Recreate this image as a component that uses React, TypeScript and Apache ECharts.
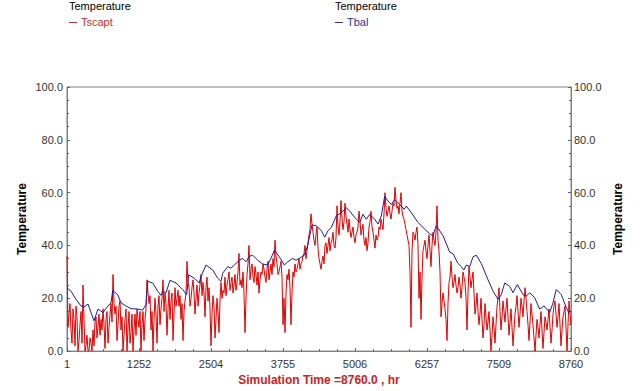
import React, { useEffect, useRef } from "react";
import * as echarts from "echarts";

// x-axis tick labels (hours)
const xTickLabels = [1, 1252, 2504, 3755, 5006, 6257, 7509, 8760];
const yTickLabels = ["0.0", "20.0", "40.0", "60.0", "80.0", "100.0"];

// Tscapt: values read on a uniform grid from hour 1 to hour 8760 (253 samples)
const tscaptValues = [
  36, 14, 8, 16, 2, 13, 4, 15, 25, 0, 6, 0, 3, 8, 11, 5, 14, 12, 16, 1,
  15, 9, 18, 29, 14, 4, 17, 8, 0, 12, 0, 15, 7, 0, 14, 16, 9, 0, 15, 12,
  27, 18, 8, 0, 20, 3, 21, 16, 27, 22, 6, 23, 19, 4, 24, 20, 17, 12, 4, 19,
  34, 24, 20, 27, 14, 25, 22, 29, 26, 13, 28, 24, 2, 21, 5, 20, 7, 26, 23, 28,
  25, 30, 26, 22, 29, 26, 37, 27, 30, 7, 29, 40, 31, 28, 32, 25, 22, 30, 33, 28,
  31, 27, 33, 35, 42, 33, 30, 34, 10, 7, 29, 31, 10, 30, 33, 31, 35, 33, 36, 40,
  38, 44, 52, 45, 40, 47, 35, 31, 36, 40, 37, 43, 41, 45, 39, 55, 44, 57, 46, 56,
  48, 50, 43, 47, 41, 45, 53, 44, 48, 40, 38, 47, 53, 45, 39, 42, 47, 50, 46, 60,
  51, 55, 50, 56, 62, 54, 52, 60, 51, 48, 44, 40, 9, 45, 42, 47, 20, 12, 38, 42,
  35, 44, 32, 45, 40, 55, 38, 13, 22, 16, 4, 26, 34, 24, 29, 22, 28, 20, 30, 26,
  8, 32, 24, 30, 14, 22, 10, 20, 5, 18, 8, 15, 0, 13, 3, 17, 24, 8, 19, 11,
  20, 6, 16, 2, 14, 21, 9, 20, 13, 24, 15, 4, 18, 10, 0, 12, 5, 15, 1, 13,
  8, 16, 3, 14, 19, 9, 18, 2, 13, 17, 0, 19, 10,
];

// Tscapt: values read halfway between consecutive samples above (252 values)
const tscaptMidValues = [
  9, 18, 3, 12, 17, 0, 10, 3, 12, 2, 0, 5, 0, 2, 13, 9, 6, 8, 10, 12,
  3, 14, 11, 18, 17, 10, 19, 13, 6, 16, 9, 3, 14, 8, 6, 12, 15, 10, 4, 16,
  22, 21, 15, 12, 14, 17, 10, 20, 15, 18, 16, 12, 22, 14, 17, 23, 21, 18, 15, 22,
  26, 17, 24, 22, 20, 17, 25, 21, 22, 24, 19, 16, 14, 17, 12, 15, 19, 20, 22, 21,
  27, 23, 28, 25, 23, 30, 25, 24, 22, 20, 33, 27, 33, 26, 29, 30, 27, 29, 31, 26,
  34, 30, 29, 32, 36, 29, 32, 28, 20, 22, 27, 24, 22, 28, 30, 33, 31, 34, 37, 35,
  41, 46, 48, 42, 44, 39, 33, 34, 33, 41, 40, 38, 42, 40, 43, 47, 49, 50, 49, 51,
  45, 46, 45, 43, 44, 47, 49, 46, 42, 43, 41, 49, 47, 42, 44, 43, 46, 48, 52, 54,
  53, 52, 53, 55, 57, 55, 56, 53, 50, 46, 42, 30, 38, 44, 45, 40, 30, 28, 40, 38,
  40, 38, 40, 42, 45, 42, 30, 18, 19, 12, 18, 28, 28, 26, 25, 24, 25, 24, 28, 20,
  22, 28, 27, 22, 17, 15, 14, 12, 10, 13, 11, 8, 6, 9, 10, 20, 15, 13, 15, 16,
  13, 11, 9, 8, 17, 15, 14, 17, 19, 20, 10, 11, 14, 5, 6, 9, 10, 8, 7, 11,
  12, 9, 8, 17, 14, 13, 10, 8, 15, 9, 10, 14,
];

// Tbal: hand-read points [hour, value]
const tbalHours = [
  1, 70, 157, 244, 296, 366, 470, 540, 627, 714, 766, 795, 882, 939, 1026, 1113, 1230, 1317, 1374, 1403,
  1490, 1577, 1635, 1664, 1722, 1791, 1895, 2012, 2081, 2116, 2213, 2300, 2330, 2417, 2533, 2620, 2677, 2707, 2794, 2851,
  2909, 2995, 3055, 3112, 3169, 3228, 3315, 3402, 3489, 3546, 3604, 3691, 3778, 3837, 3924, 3981, 4038, 4125, 4184, 4259,
  4328, 4421, 4480, 4537, 4594, 4681, 4768, 4855, 4914, 5001, 5088, 5145, 5203, 5262, 5349, 5406, 5463, 5522, 5580, 5637,
  5696, 5783, 5858, 5898, 5985, 6101, 6218, 6304, 6362, 6419, 6536, 6652, 6709, 6796, 6854, 6896, 6941, 7000, 7057, 7114,
  7201, 7318, 7405, 7492, 7549, 7608, 7695, 7752, 7827, 7926, 7983, 8042, 8129, 8216, 8291, 8390, 8447, 8504, 8591, 8678,
  8720, 8760,
];
const tbalValues = [
  23.9, 22.7, 19.6, 17.1, 16.7, 17.8, 11.5, 15.9, 14.6, 17.1, 18.3, 22.9, 21.4, 18.3, 17.1, 16.1, 15.9, 15.5, 17.7, 26.4,
  25.8, 22.7, 21.1, 22.7, 22.1, 26.8, 25.8, 23.3, 21.4, 28.9, 27.6, 25.8, 28.3, 32.6, 30.7, 27.6, 26.4, 29.5, 32.0, 31.4,
  32.6, 34.4, 35.1, 33.8, 35.9, 36.3, 34.4, 33.0, 32.6, 35.1, 38.2, 35.7, 32.6, 33.8, 35.1, 34.4, 35.1, 36.3, 40.0, 47.8,
  47.5, 45.6, 43.1, 45.6, 46.8, 51.2, 52.4, 54.3, 53.0, 50.6, 48.7, 51.8, 49.9, 51.8, 49.9, 48.1, 51.2, 58.6, 56.8, 55.5,
  57.4, 55.5, 53.7, 54.9, 52.4, 48.7, 46.2, 44.4, 43.7, 47.5, 43.7, 37.5, 36.9, 33.2, 32.0, 30.7, 32.6, 32.0, 35.7, 36.3,
  33.2, 27.0, 22.7, 19.6, 21.4, 25.8, 24.5, 22.1, 25.2, 21.4, 20.8, 22.1, 20.2, 15.9, 17.1, 14.6, 18.3, 23.3, 21.4, 16.5,
  14.6, 15.2,
];

const seriesNames = ["Tscapt", "Tbal"];
const seriesColors = ["#e00000", "#1c1ca0"];
const legendTextColors = ["#c83030", "#30309a"];
const legendGroupTitle = "Temperature";

const X_MIN = 1;
const X_MAX = 8760;
const FONT = "Liberation Sans, Arial, sans-serif";

export default function App() {
  const ref = useRef<HTMLDivElement>(null);

  useEffect(() => {
    if (!ref.current) return;
    const chart = echarts.init(ref.current, undefined, { renderer: "svg" });
    const step = (X_MAX - X_MIN) / (tscaptValues.length - 1);
    const redData: number[][] = [];
    tscaptValues.forEach((v, i) => {
      redData.push([X_MIN + i * step, v]);
      if (i < tscaptMidValues.length) redData.push([X_MIN + (i + 0.5) * step, tscaptMidValues[i]]);
    });
    const blueData = tbalHours.map((h, i) => [h, tbalValues[i]]);
    const xInterval = (X_MAX - X_MIN) / (xTickLabels.length - 1);

    const yAxisCommon = {
      type: "value" as const,
      min: 0,
      max: 100,
      interval: 20,
      name: "Temperature",
      nameLocation: "middle" as const,
      nameRotate: 90,
      nameMoveOverlap: false,
      nameTextStyle: { fontFamily: FONT, fontSize: 12, fontWeight: "bold", color: "#000" },
      axisLine: { show: true, lineStyle: { color: "#808080", width: 1 } },
      axisTick: { show: true, inside: true, length: 3, lineStyle: { color: "#606060" } },
      minorTick: { show: true, splitNumber: 4, length: 2, lineStyle: { color: "#606060" } },
      splitLine: { show: false },
    };
    const yLabelFormatter = (v: number) => yTickLabels[Math.round(v / 20)] ?? v.toFixed(1);

    const legendX = [69, 335];
    const legendGraphics: any[] = [];
    seriesNames.forEach((name, k) => {
      const x = legendX[k];
      legendGraphics.push(
        {
          type: "text",
          x,
          y: 6,
          style: {
            text: legendGroupTitle,
            fontFamily: FONT,
            fontSize: 11,
            fill: "#000",
            textVerticalAlign: "middle",
          },
        },
        {
          type: "line",
          shape: { x1: x, y1: 22.5, x2: x + 8, y2: 22.5 },
          style: { stroke: legendTextColors[k], lineWidth: 1 },
        },
        {
          type: "text",
          x: x + 12,
          y: 22,
          style: {
            text: name,
            fontFamily: FONT,
            fontSize: 11,
            fill: legendTextColors[k],
            textVerticalAlign: "middle",
          },
        }
      );
    });

    chart.setOption({
      animation: false,
      backgroundColor: "#fff",
      grid: {
        left: 67,
        right: 69,
        top: 87,
        bottom: 35,
        show: true,
        borderColor: "#808080",
        borderWidth: 1,
      },
      graphic: legendGraphics,
      xAxis: {
        type: "value",
        min: X_MIN,
        max: X_MAX,
        interval: xInterval,
        name: "Simulation Time =8760.0 , hr",
        nameLocation: "middle",
        nameGap: 21,
        nameTextStyle: { fontFamily: FONT, fontSize: 12, fontWeight: "bold", color: "#cc2222" },
        axisLine: { show: true, onZero: false, lineStyle: { color: "#808080", width: 1 } },
        axisTick: { show: true, inside: true, length: 3, lineStyle: { color: "#606060" } },
        minorTick: { show: true, splitNumber: 4, length: 2, lineStyle: { color: "#606060" } },
        splitLine: { show: false },
        axisLabel: {
          fontFamily: FONT,
          fontSize: 11,
          color: "#333",
          margin: 7,
          showMinLabel: true,
          showMaxLabel: true,
          formatter: (v: number) => {
            const idx = Math.round((v - X_MIN) / xInterval);
            return String(xTickLabels[idx] ?? Math.round(v));
          },
        },
      },
      yAxis: [
        {
          ...yAxisCommon,
          position: "left",
          nameGap: 39,
          axisLabel: { fontFamily: FONT, fontSize: 11, color: "#333", margin: 4, formatter: yLabelFormatter },
        },
        {
          ...yAxisCommon,
          position: "right",
          nameGap: 41,
          axisLabel: { fontFamily: FONT, fontSize: 11, color: "#333", margin: 3, formatter: yLabelFormatter },
        },
      ],
      series: [
        {
          name: seriesNames[0],
          type: "line",
          data: redData,
          showSymbol: false,
          symbol: "none",
          color: seriesColors[0],
          lineStyle: { color: seriesColors[0], width: 1 },
          z: 2,
        },
        {
          name: seriesNames[1],
          type: "line",
          data: blueData,
          showSymbol: false,
          symbol: "none",
          color: seriesColors[1],
          lineStyle: { color: seriesColors[1], width: 1 },
          z: 3,
        },
      ],
    });

    return () => chart.dispose();
  }, []);

  return (
    <div
      ref={ref}
      style={{ position: "fixed", left: 0, top: 0, width: 640, height: 391, background: "#fff" }}
    />
  );
}
